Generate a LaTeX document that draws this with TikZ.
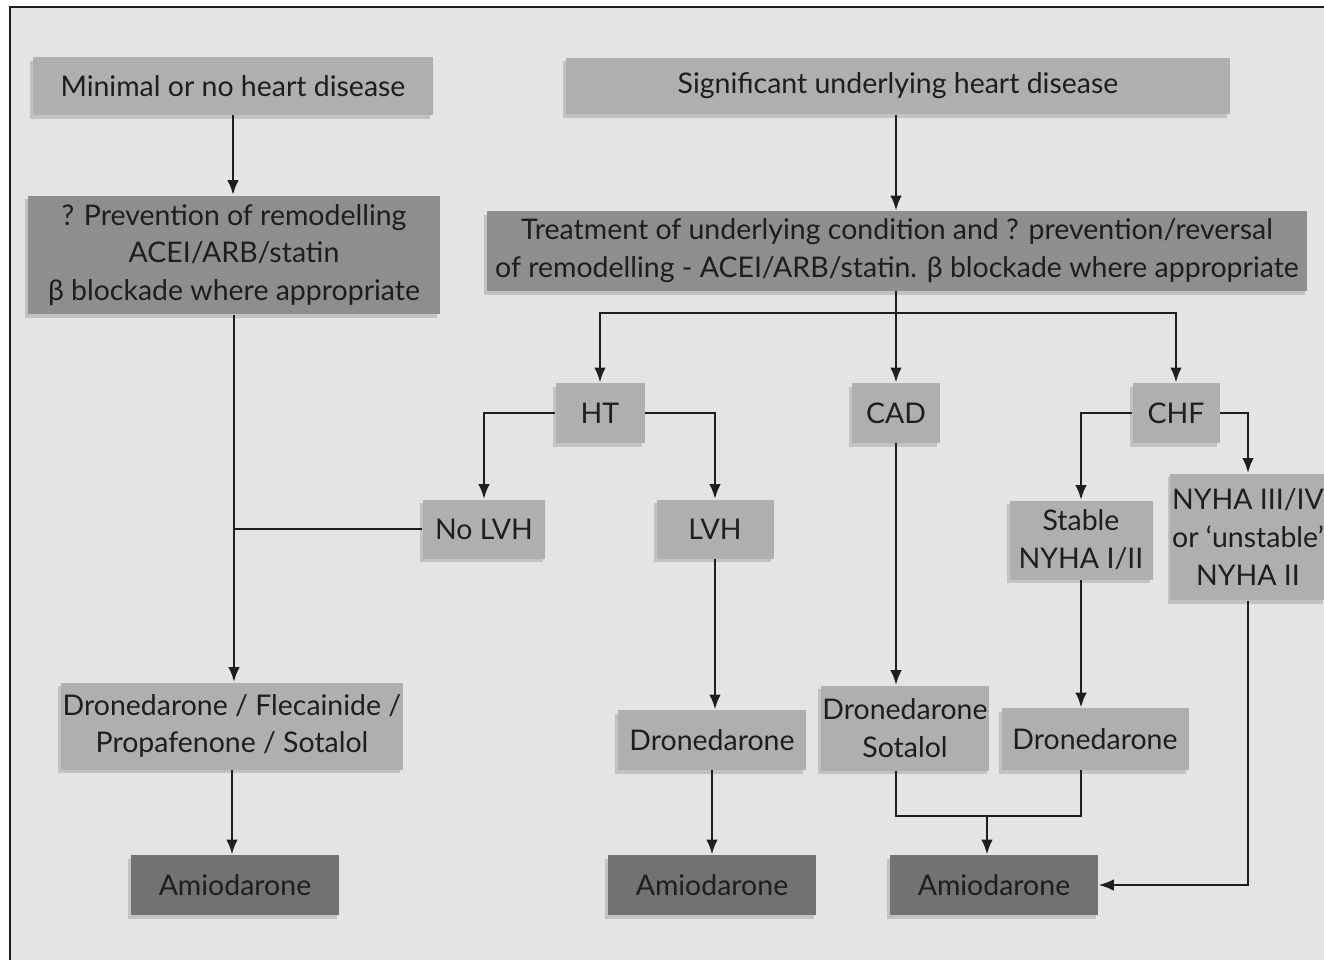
\documentclass[tikz,border=0pt]{standalone}
\usepackage{fontspec}
\setmainfont{Lato}
\usetikzlibrary{arrows.meta,shadows}
\definecolor{pagegray}{HTML}{E4E4E4}
\definecolor{boxgray}{HTML}{AFAFAF}
\definecolor{midgray}{HTML}{8E8E8E}
\definecolor{deepgray}{HTML}{727272}
\definecolor{inkgray}{HTML}{1E1E1E}
\tikzset{
  lightbox/.style={
    fill=boxgray,
    draw=none,
    inner sep=1pt,
    align=center,
    text=inkgray,
    font=\fontsize{16.2}{21.5}\selectfont,
    drop shadow={shadow xshift=-1.5pt,shadow yshift=-2pt,fill=black,opacity=0.15}
  },
  darkbox/.style={lightbox,fill=midgray},
  drugbox/.style={lightbox,fill=deepgray},
  flowline/.style={line width=1.5pt,draw=inkgray},
  flowarrow/.style={flowline,-{Latex[length=3mm,width=2.3mm]}},
  thinarrow/.style={flowarrow,line width=0.8pt}
}
\begin{document}
\begin{tikzpicture}[x=0.02cm,y=-0.02cm]
\useasboundingbox (0,0) rectangle (1324,960);
\fill[pagegray] (10,7) rectangle (1324,960);
\draw[line width=1.3pt,draw=inkgray] (10,960) -- (10,7) -- (1324,7);

% left column
\node[lightbox,minimum width=8cm,minimum height=1.16cm] (minimal) at (233,86) {Minimal or no heart disease};
\node[darkbox,minimum width=8.24cm,minimum height=2.38cm] (prevent) at (234,255) {? Prevention of remodelling\\ACEI/ARB/statin\\β blockade where appropriate};
\node[lightbox,minimum width=6.5cm,minimum height=1.74cm] (dflec) at (232,726) {Dronedarone / Flecainide /\\Propafenone / Sotalol};
\node[drugbox,minimum width=4.18cm,minimum height=1.2cm] (amioA) at (235,885) {Amiodarone};

% right part
\node[lightbox,minimum width=13.28cm,minimum height=1.14cm] (signif) at (898,86) {Significant underlying heart disease};
\node[darkbox,minimum width=16.42cm,minimum height=1.6cm] (treat) at (897,251) {Treatment of underlying condition and ? prevention/reversal\\of remodelling - ACEI/ARB/statin. β blockade where appropriate};
\node[lightbox,minimum width=1.78cm,minimum height=1.2cm] (ht) at (600,413) {HT};
\node[lightbox,minimum width=1.76cm,minimum height=1.2cm] (cad) at (896,413) {CAD};
\node[lightbox,minimum width=1.74cm,minimum height=1.2cm] (chf) at (1176,413) {CHF};
\node[lightbox,minimum width=2.46cm,minimum height=1.18cm] (nolvh) at (484,529) {No LVH};
\node[lightbox,minimum width=2.34cm,minimum height=1.18cm] (lvh) at (715,529) {LVH};
\node[lightbox,minimum width=2.86cm,minimum height=1.58cm] (stable) at (1081,540) {Stable\\NYHA I/II};
\node[lightbox,minimum width=3.02cm,minimum height=2.54cm] (severe) at (1248,537) {NYHA III/IV\\or `unstable'\\NYHA II};
\node[lightbox,minimum width=3.76cm,minimum height=1.2cm] (dronA) at (712,740) {Dronedarone};
\node[lightbox,minimum width=3.32cm,minimum height=1.7cm] (dronsot) at (905,728) {Dronedarone\\Sotalol};
\node[lightbox,minimum width=3.74cm,minimum height=1.24cm] (dronB) at (1095,739) {Dronedarone};
\node[drugbox,minimum width=4.18cm,minimum height=1.2cm] (amioB) at (712,885) {Amiodarone};
\node[drugbox,minimum width=4.18cm,minimum height=1.2cm] (amioC) at (994,885) {Amiodarone};

\coordinate (split) at (896,313);
\coordinate (join) at (987,816);

% connectors
\draw[flowarrow] (minimal.south) -- (minimal.south |- prevent.north);
\draw[flowarrow] (prevent.south) -- (prevent.south |- dflec.north);
\draw[flowline] (nolvh.west) -- (nolvh.west -| prevent.south);
\draw[flowarrow] (dflec.south) -- (dflec.south |- amioA.north);
\draw[flowarrow] (signif.south -| cad) -- (cad |- treat.north);
\draw[flowarrow] (cad |- treat.south) -- (cad.north);
\draw[flowarrow] (split) -| (ht.north);
\draw[flowarrow] (split) -| (chf.north);
\draw[flowarrow] (ht.west) -| (nolvh.north);
\draw[flowarrow] (ht.east) -| (lvh.north);
\draw[flowarrow] (chf.west) -| (stable.north);
\draw[flowarrow] (chf.east) -| (severe.north);
\draw[flowarrow] (lvh.south) -- (lvh.south |- dronA.north);
\draw[flowarrow] (cad.south) -- (cad.south |- dronsot.north);
\draw[flowarrow] (stable.south) -- (stable.south |- dronB.north);
\draw[flowarrow] (dronA.south) -- (dronA.south |- amioB.north);
\draw[flowline] (cad |- dronsot.south) |- (join) -| (stable |- dronB.south);
\draw[flowarrow] (join) -- (join |- amioC.north);
\draw[thinarrow] (severe.south) |- (amioC.east);
\end{tikzpicture}
\end{document}
